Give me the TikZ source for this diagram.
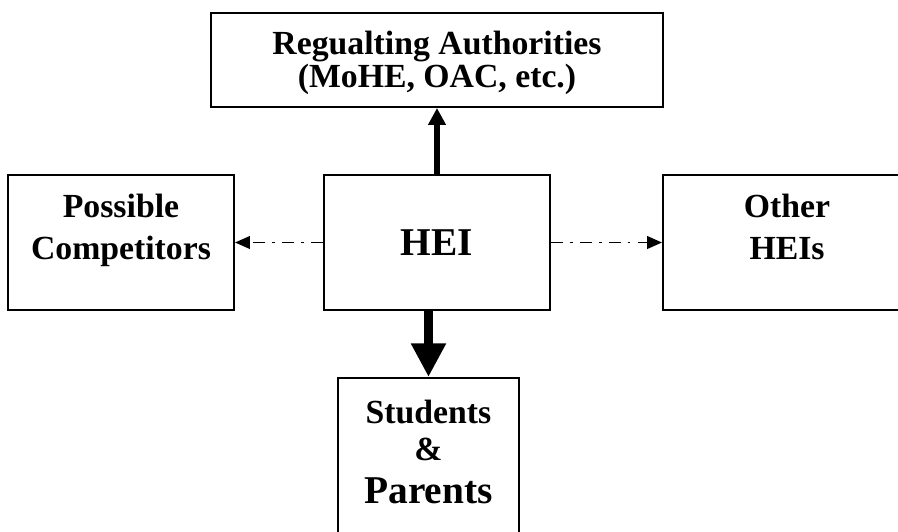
\documentclass[tikz,border=0pt]{standalone}
\usepackage{fontspec}
\setmainfont{Liberation Serif}
\usetikzlibrary{arrows.meta,positioning}

\begin{document}
\begin{tikzpicture}[x=0.025cm, y=-0.025cm,
  font=\bfseries\fontsize{24}{30}\selectfont,
  box/.style={draw, line width=1.4pt, align=center, inner sep=0pt},
  peer/.style={-{Triangle[length=10.5pt,width=9pt]}, line width=1.1pt,
    dash pattern=on 8.5pt off 5pt on 2pt off 5pt}]
  %% page frame (px grid, y down)
  \useasboundingbox (0,0) rectangle (898,531);
  %% Boxes
  \node[box, minimum width=11.3cm, minimum height=2.35cm, text height=44pt,
    font=\bfseries\fontsize{24}{23.5}\selectfont] (auth) at (437,60)
    {Regualting Authorities\\(MoHE, OAC, etc.)};
  \node[box, minimum width=5.65cm, minimum height=3.375cm,
    font=\bfseries\fontsize{28}{32}\selectfont] (hei) at (437,242.5) {HEI};
  \node[box, minimum width=5.65cm, minimum height=3.375cm, text depth=22pt]
    (comp) at (121,242.5) {Possible\\Competitors};
  \node[box, minimum width=6.2cm, minimum height=3.375cm, text depth=22pt]
    (other) at (787,242.5) {Other\\HEIs};
  \node[box, anchor=north, minimum width=4.525cm, inner ysep=16pt, text depth=10pt,
    font=\bfseries\fontsize{24}{26.3}\selectfont] (stud) at (428.5,377)
    {Students\\\&\\[4.3pt]{\fontsize{28}{30}\selectfont Parents}};
  %% Arrows
  \draw[line width=3.6pt, -{Triangle[length=12pt,width=12pt]}] (hei.north) -- (auth.south);
  \draw[line width=7pt, -{Triangle[length=24pt,width=23.5pt]}] (hei.south -| stud.north) -- (stud.north);
  \draw[peer] (hei.west) -- (comp.east);
  \draw[peer] (hei.east) -- (other.west);
\end{tikzpicture}
\end{document}
